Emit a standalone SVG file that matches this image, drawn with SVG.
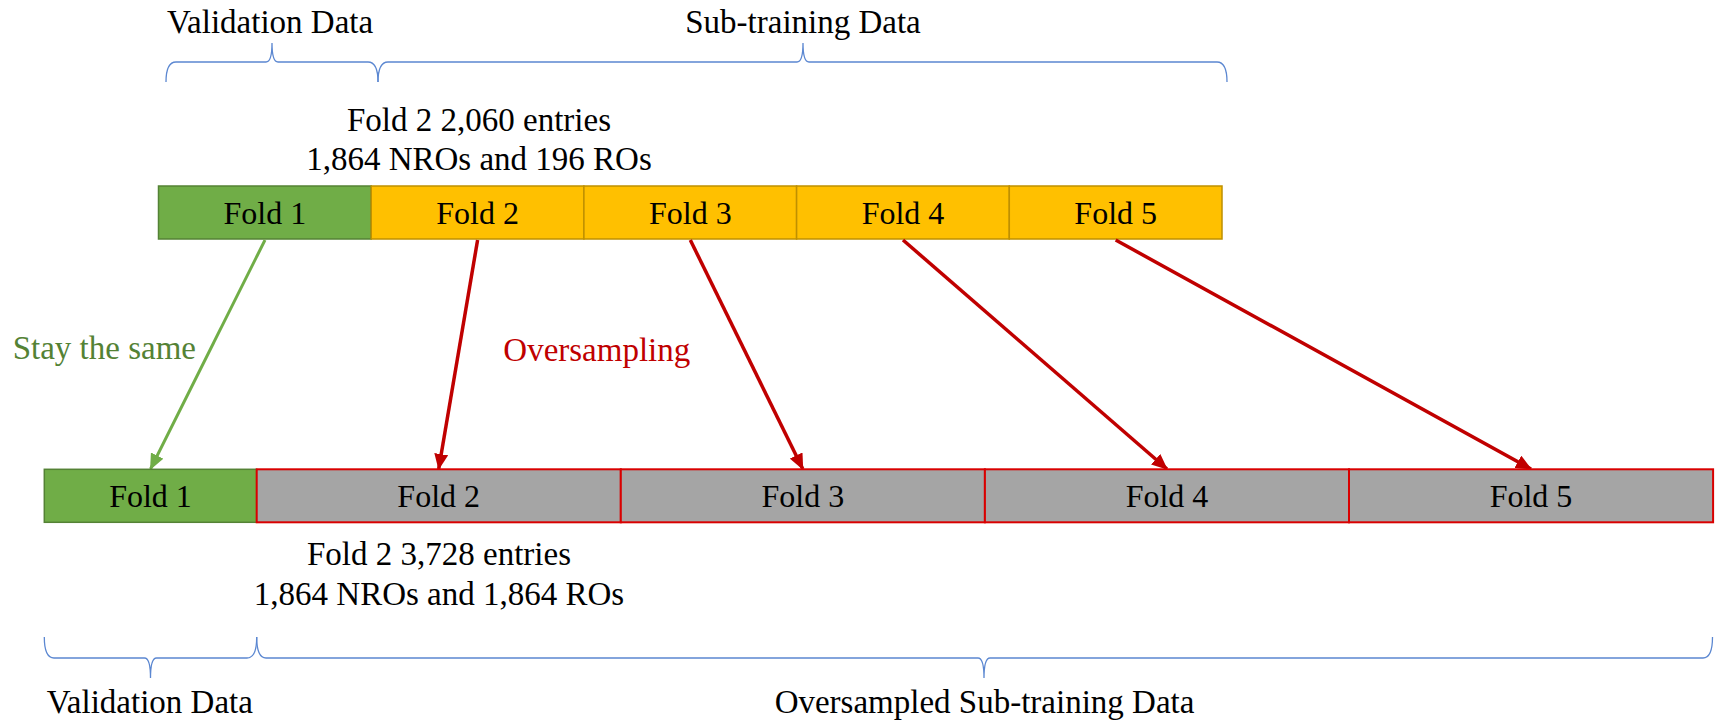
<svg xmlns="http://www.w3.org/2000/svg" width="1718" height="728" viewBox="0 0 1718 728">
  <style>
    text { font-family: "Liberation Serif", "Times New Roman", serif; font-size: 33px; fill: #000; }
    .fold { font-size: 32px; text-anchor: middle; }
    .mid { text-anchor: middle; }
    .valid { fill: #70AD47; stroke: #548235; stroke-width: 1.5; }
    .train { fill: #FFC000; stroke: #BF9000; stroke-width: 1.5; }
    .over { fill: #A5A5A5; stroke: #D90000; stroke-width: 2; }
    .brace { fill: none; stroke: #5B87D1; stroke-width: 1.3; }
    .arrow-g { fill: none; stroke: #70AD47; stroke-width: 3; }
    .arrow-r { fill: none; stroke: #C00000; stroke-width: 3.5; }
  </style>
  <defs>
    <marker id="headG" markerUnits="userSpaceOnUse" markerWidth="16" markerHeight="14" refX="15" refY="7" orient="auto">
      <path d="M0,0 L16,7 L0,14 Z" fill="#70AD47"/>
    </marker>
    <marker id="headR" markerUnits="userSpaceOnUse" markerWidth="16" markerHeight="14" refX="15" refY="7" orient="auto">
      <path d="M0,0 L16,7 L0,14 Z" fill="#C00000"/>
    </marker>
  </defs>

  <rect width="1718" height="728" fill="#fff"/>

  <!-- top labels and braces -->
  <g id="top-labels">
    <text class="mid" x="270" y="33">Validation Data</text>
    <text class="mid" x="803" y="33">Sub-training Data</text>
    <path class="brace" d="M166,82 Q166,62 176,62 L266,62 Q272,62 272,43 Q272,62 278,62 L368,62 Q378,62 378,82"/>
    <path class="brace" d="M378,82 Q378,62 388,62 L797,62 Q803,62 803,43 Q803,62 809,62 L1217,62 Q1227,62 1227,82"/>
    <text class="mid" x="479" y="131">Fold 2 2,060 entries</text>
    <text class="mid" x="479" y="170">1,864 NROs and 196 ROs</text>
  </g>

  <!-- original five folds -->
  <g id="top-fold-1">
    <rect class="valid" x="158.5" y="186" width="212.7" height="53"/>
    <text class="fold" x="264.9" y="224">Fold 1</text>
  </g>
  <g id="top-fold-2">
    <rect class="train" x="371.2" y="186" width="212.7" height="53"/>
    <text class="fold" x="477.6" y="224">Fold 2</text>
  </g>
  <g id="top-fold-3">
    <rect class="train" x="583.9" y="186" width="212.7" height="53"/>
    <text class="fold" x="690.3" y="224">Fold 3</text>
  </g>
  <g id="top-fold-4">
    <rect class="train" x="796.6" y="186" width="212.7" height="53"/>
    <text class="fold" x="903" y="224">Fold 4</text>
  </g>
  <g id="top-fold-5">
    <rect class="train" x="1009.3" y="186" width="212.7" height="53"/>
    <text class="fold" x="1115.7" y="224">Fold 5</text>
  </g>

  <!-- connectors -->
  <g id="connectors">
    <line class="arrow-g" x1="265" y1="240" x2="150.5" y2="469" marker-end="url(#headG)"/>
    <line class="arrow-r" x1="477.6" y1="240" x2="438.7" y2="469" marker-end="url(#headR)"/>
    <line class="arrow-r" x1="690.3" y1="240" x2="802.8" y2="469" marker-end="url(#headR)"/>
    <line class="arrow-r" x1="903" y1="240" x2="1167" y2="469" marker-end="url(#headR)"/>
    <line class="arrow-r" x1="1115.7" y1="240" x2="1531" y2="469" marker-end="url(#headR)"/>
  </g>

  <g id="arrow-labels">
    <text x="12.7" y="359" style="fill:#548235">Stay the same</text>
    <text x="503.3" y="361" style="fill:#C00000">Oversampling</text>
  </g>

  <!-- oversampled folds -->
  <g id="bottom-fold-1">
    <rect class="valid" x="44.3" y="469.3" width="212.4" height="53"/>
    <text class="fold" x="150.5" y="507">Fold 1</text>
  </g>
  <g id="bottom-fold-2">
    <rect class="over" x="256.7" y="469.3" width="364.1" height="53"/>
    <text class="fold" x="438.7" y="507">Fold 2</text>
  </g>
  <g id="bottom-fold-3">
    <rect class="over" x="620.8" y="469.3" width="364.1" height="53"/>
    <text class="fold" x="802.8" y="507">Fold 3</text>
  </g>
  <g id="bottom-fold-4">
    <rect class="over" x="984.9" y="469.3" width="364.1" height="53"/>
    <text class="fold" x="1167" y="507">Fold 4</text>
  </g>
  <g id="bottom-fold-5">
    <rect class="over" x="1349" y="469.3" width="364.1" height="53"/>
    <text class="fold" x="1531" y="507">Fold 5</text>
  </g>

  <!-- bottom labels and braces -->
  <g id="bottom-labels">
    <text class="mid" x="439" y="565">Fold 2 3,728 entries</text>
    <text class="mid" x="439" y="605">1,864 NROs and 1,864 ROs</text>
    <path class="brace" d="M44.3,637 Q44.3,658 54,658 L144.5,658 Q150.5,658 150.5,678 Q150.5,658 156.5,658 L247,658 Q256.7,658 256.7,637"/>
    <path class="brace" d="M256.7,637 Q256.7,658 266,658 L978,658 Q984,658 984,678 Q984,658 990,658 L1703,658 Q1712.5,658 1712.5,637"/>
    <text x="46.7" y="713">Validation Data</text>
    <text class="mid" x="984.5" y="713">Oversampled Sub-training Data</text>
  </g>
</svg>
